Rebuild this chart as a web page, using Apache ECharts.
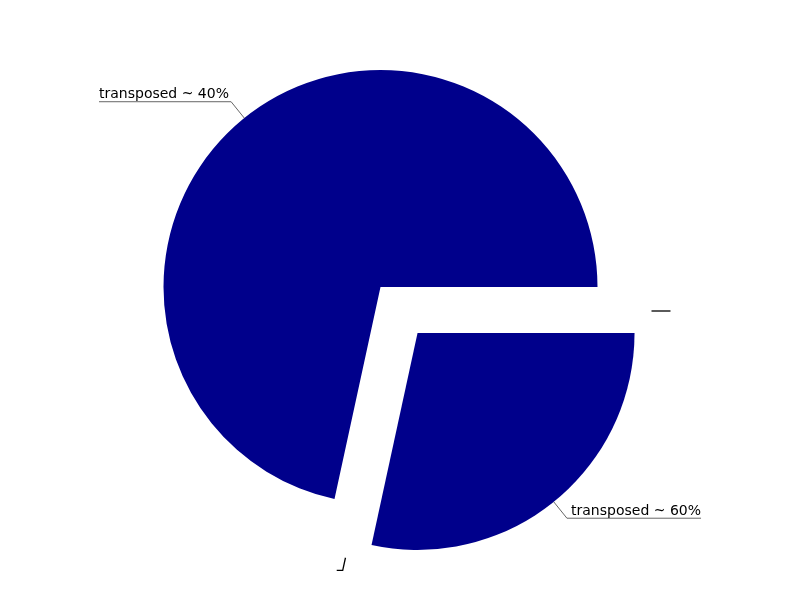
<!DOCTYPE html>
<html><head><meta charset="utf-8">
<script src="https://cdn.jsdelivr.net/npm/echarts@6/dist/echarts.min.js"></script>
<style>html,body{margin:0;padding:0;background:#fff}#c{width:800px;height:600px}</style>
</head><body><div id="c"></div>
<script>
// slice names (label texts) and values
const categories = ['transposed ~ 40%', 'transposed ~ 60%'];
const values = [71.6, 28.4];
const selectedFlags = [false, true];
// second (invisible) layer: zero-value items at the slice boundaries
const ghostNames = ['', '', '', ''];
const ghostValues = [71.6, 0, 28.4, 0];

const chart = echarts.init(document.getElementById('c'), null, {renderer: 'canvas'});

const EDGE = 99;
const SEL_SHIFT_X = 37; // horizontal shift of the exploded slice, compensated for its label

const mainData = categories.map((name, i) => ({
  name: name, value: values[i], selected: selectedFlags[i],
  label: {edgeDistance: selectedFlags[i] ? EDGE + SEL_SHIFT_X : EDGE}
}));
const ghostData = ghostValues.map((v, i) => ({
  name: ghostNames[i], value: v,
  label: {show: v === 0},
  labelLine: {show: v === 0}
}));

chart.setOption({
  animation: false,
  backgroundColor: '#fff',
  series: [{
    type: 'pie',
    center: [380.5, 287],
    radius: 217,
    startAngle: 0,
    clockwise: false,
    selectedMode: 'single',
    selectedOffset: 59,
    avoidLabelOverlap: false,
    emphasis: {disabled: true},
    itemStyle: {color: '#00008b', borderWidth: 0},
    label: {
      alignTo: 'edge',
      edgeDistance: EDGE,
      formatter: '{b}\n',
      fontSize: 14,
      lineHeight: 14,
      color: '#000',
      fontFamily: 'DejaVu Sans'
    },
    labelLine: {length: 21, length2: 0, lineStyle: {color: '#666', width: 1}},
    labelLayout: function (params) {
      const isLeft = params.labelRect.x < chart.getWidth() / 2;
      const pts = params.labelLinePoints;
      if (pts) {
        pts[2][0] = isLeft ? params.labelRect.x : params.labelRect.x + params.labelRect.width;
      }
      return {labelLinePoints: pts};
    },
    data: mainData
  }, {
    type: 'pie',
    silent: true,
    center: [399, 311],
    radius: 252.5,
    startAngle: 0,
    clockwise: false,
    avoidLabelOverlap: false,
    emphasis: {disabled: true},
    itemStyle: {color: 'rgba(0,0,0,0)', borderWidth: 0},
    label: {formatter: ' ', color: 'rgba(0,0,0,0)', fontSize: 12},
    labelLine: {length: 13, length2: 6, lineStyle: {color: '#000', width: 1.3}},
    data: ghostData
  }]
});
</script></body></html>
